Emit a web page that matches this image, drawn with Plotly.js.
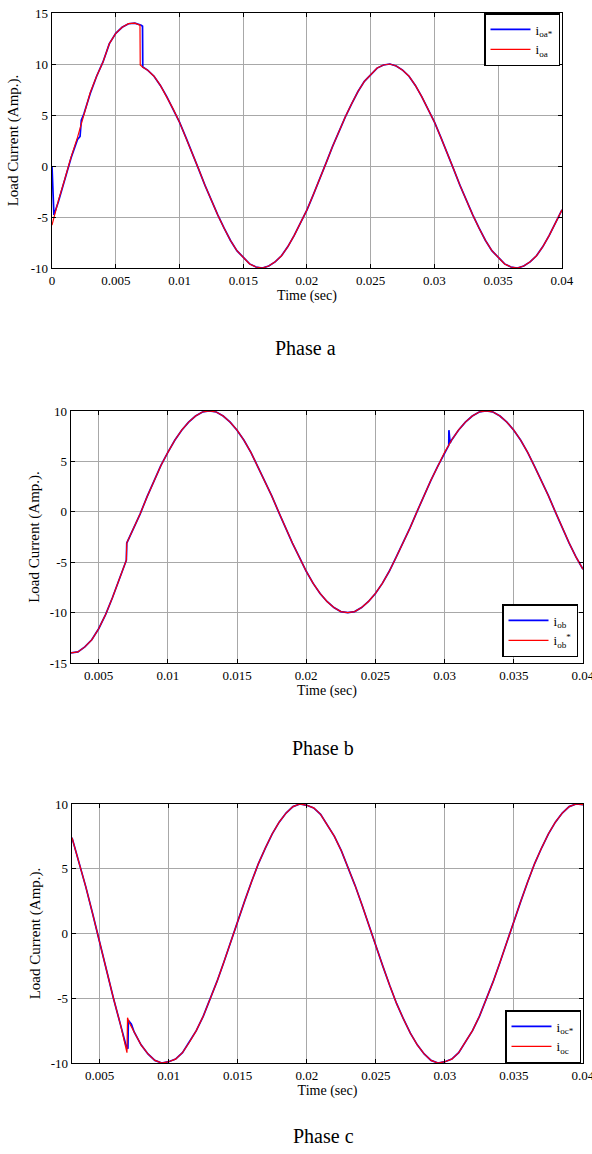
<!DOCTYPE html>
<html><head><meta charset="utf-8">
<script src="https://cdn.plot.ly/plotly-3.0.1.min.js"></script>
<style>html,body{margin:0;padding:0;background:#fff}#chart{width:592px;height:1154px}</style>
</head><body><div id="chart"></div>
<script>
// ---------- data ----------
const tSteady = [0.0075,0.008,0.0085,0.009,0.0095,0.01,0.0105,0.011,0.0115,0.012,0.0125,0.013,0.0135,0.014,0.0145,0.015,0.0155,0.016,0.0165,0.017,0.0175,0.018,0.0185,0.019,0.0195,0.02,0.0205,0.021,0.0215,0.022,0.0225,0.023,0.0235,0.024,0.0245,0.025,0.0255,0.026,0.0265,0.027,0.0275,0.028,0.0285,0.029,0.0295,0.03,0.0305,0.031,0.0315,0.032,0.0325,0.033,0.0335,0.034,0.0345,0.035,0.0355,0.036,0.0365,0.037,0.0375,0.038,0.0385,0.039,0.0395,0.04];

// Phase a
const tA_refStart = [0,0.00015,0.0005,0.001,0.0015,0.002,0.0022,0.0023,0.0025,0.003,0.0035,0.004,0.0045,0.005,0.0055,0.006,0.0065,0.007,0.0071,0.00712];
const ioaRef_start = [0,-4.8,-3.5,-1.4,0.8,2.6,2.9,4.5,5.1,7.1,8.8,10.2,12.0,13.0,13.6,13.95,14.0,13.8,13.7,9.7];
const tA_start = [0,0.0005,0.001,0.0015,0.002,0.0025,0.003,0.0035,0.004,0.0045,0.005,0.0055,0.006,0.0065,0.0069,0.00692,0.0071];
const ioa_start = [-5.8,-3.4,-1.3,0.9,2.8,5.1,7.2,8.8,10.2,12.0,13.0,13.6,13.95,14.0,13.8,9.9,9.7];
const ioa_steady = [9.4,8.8,7.9,6.8,5.6,4.3,2.8,1.3,-0.3,-1.9,-3.4,-4.8,-6.1,-7.3,-8.3,-9.0,-9.6,-9.9,-10.0,
  -9.8,-9.4,-8.8,-7.9,-6.8,-5.6,-4.3,-2.8,-1.3,0.3,1.9,3.4,4.8,6.1,7.3,8.3,9.0,9.6,9.9,10.0,
  9.8,9.4,8.8,7.9,6.8,5.6,4.3,2.8,1.3,-0.3,-1.9,-3.4,-4.8,-6.1,-7.3,-8.3,-9.0,-9.6,-9.9,-10.0,
  -9.8,-9.4,-8.8,-7.9,-6.8,-5.6,-4.3];

// Phase b
const tB_start = [0.003,0.0035,0.004,0.0045,0.005,0.0055,0.006,0.0065,0.007,0.00703,0.0071];
const iob_start = [-14.0,-13.9,-13.4,-12.7,-11.6,-10.2,-8.5,-6.6,-4.8,-3.1,-2.9];
const iob_steady = [-1.8,-0.2,1.5,3.1,4.6,5.9,7.1,8.1,8.9,9.5,9.9,10.0,
  9.9,9.5,8.9,8.1,7.1,5.9,4.5,3.1,1.6,0.0,-1.6,-3.1,-4.5,-5.9,-7.1,-8.1,-8.9,-9.5,-9.9,-10.0,
  -9.9,-9.5,-8.9,-8.1,-7.1,-5.9,-4.5,-3.1,-1.6,0.0,1.6,3.1,4.5,5.9,7.1,8.1,8.9,9.5,9.9,10.0,
  9.9,9.5,8.9,8.1,7.1,5.9,4.5,3.1,1.6,0.0,-1.6,-3.1,-4.5,-5.7];
const tB_spike = [0.0303,0.03031,0.0304];
const iob_spike = [6.6,8.1,6.8];

// Phase c
const tC_refStart = [0.003,0.0035,0.004,0.0045,0.005,0.0055,0.006,0.0065,0.0069,0.00705,0.00708,0.0073];
const iocRef_start = [7.4,5.6,3.6,1.5,-0.7,-2.9,-5.0,-7.0,-8.6,-8.9,-6.7,-7.0];
const tC_start = [0.003,0.0035,0.004,0.0045,0.005,0.0055,0.006,0.0065,0.0069,0.00698,0.00702,0.00715];
const ioc_start = [7.4,5.6,3.6,1.5,-0.7,-2.9,-5.0,-7.0,-8.8,-9.2,-6.5,-6.9];
const ioc_steady = [-7.6,-8.6,-9.3,-9.8,-10.0,
  -9.9,-9.7,-9.2,-8.4,-7.5,-6.4,-5.1,-3.7,-2.2,-0.6,0.9,2.5,4.0,5.4,6.6,7.7,8.6,9.3,9.8,10.0,
  9.9,9.7,9.2,8.4,7.5,6.4,5.1,3.7,2.2,0.6,-0.9,-2.5,-4.0,-5.4,-6.6,-7.7,-8.6,-9.3,-9.8,-10.0,
  -9.9,-9.7,-9.2,-8.4,-7.5,-6.4,-5.1,-3.7,-2.2,-0.6,0.9,2.5,4.0,5.4,6.6,7.7,8.6,9.3,9.8,10.0,
  9.95];

// ticks
const xTickValsA = [0,0.005,0.01,0.015,0.02,0.025,0.03,0.035,0.04];
const xTickTextA = ['0','0.005','0.01','0.015','0.02','0.025','0.03','0.035','0.04'];
const xTickValsBC = [0.005,0.01,0.015,0.02,0.025,0.03,0.035,0.04];
const xTickTextBC = ['0.005','0.01','0.015','0.02','0.025','0.03','0.035','0.04'];
const yTickValsA = [-10,-5,0,5,10,15];
const yTickTextA = ['-10','-5','0','5','10','15'];
const yTickValsB = [-15,-10,-5,0,5,10];
const yTickTextB = ['-15','-10','-5','0','5','10'];
const yTickValsC = [-10,-5,0,5,10];
const yTickTextC = ['-10','-5','0','5','10'];

const xTitle = 'Time (sec)';
const yTitle = 'Load Current (Amp.).';
const phaseLabels = ['Phase a','Phase b','Phase c'];

// ---------- build ----------
const FONT = 'Liberation Serif, Times New Roman, serif';
const BLUE = '#0000ff', RED = '#ff0000';
const W = 592, H = 1154;

const traces = [
  {x: tA_refStart.concat(tSteady), y: ioaRef_start.concat(ioa_steady), xaxis:'x', yaxis:'y',
   name:'i<sub>oa*</sub>', legend:'legend', line:{color:BLUE,width:1.7}, mode:'lines'},
  {x: tA_start.concat(tSteady), y: ioa_start.concat(ioa_steady), xaxis:'x', yaxis:'y',
   name:'i<sub>oa</sub>', legend:'legend', line:{color:RED,width:1.2}, mode:'lines'},
  {x: tB_start.concat(tSteady.slice(0,46), tB_spike, tSteady.slice(46)),
   y: iob_start.concat(iob_steady.slice(0,46), iob_spike, iob_steady.slice(46)), xaxis:'x2', yaxis:'y2',
   name:'i<sub>ob</sub>', legend:'legend2', line:{color:BLUE,width:1.7}, mode:'lines'},
  {x: tB_start.concat(tSteady), y: iob_start.concat(iob_steady), xaxis:'x2', yaxis:'y2',
   name:'i<sub>ob</sub><sup>*</sup>', legend:'legend2', line:{color:RED,width:1.2}, mode:'lines'},
  {x: tC_refStart.concat(tSteady), y: iocRef_start.concat(ioc_steady), xaxis:'x3', yaxis:'y3',
   name:'i<sub>oc*</sub>', legend:'legend3', line:{color:BLUE,width:1.7}, mode:'lines'},
  {x: tC_start.concat(tSteady), y: ioc_start.concat(ioc_steady), xaxis:'x3', yaxis:'y3',
   name:'i<sub>oc</sub>', legend:'legend3', line:{color:RED,width:1.2}, mode:'lines'}
];

function ax(extra){
  return Object.assign({
    showline:true, linecolor:'#000', linewidth:1.3, mirror:'ticks',
    ticks:'inside', ticklen:4, tickcolor:'#000', tickwidth:1,
    showgrid:true, gridcolor:'#a8a8a8', gridwidth:1, zeroline:false, ticklabeloverflow:'allow',
    tickfont:{family:FONT,size:13,color:'#000'}, tickmode:'array', fixedrange:true
  }, extra);
}
const px = v => v / W;
const py = v => 1 - v / H;

function legendBox(extra){
  return Object.assign({
    bgcolor:'#fff', bordercolor:'#000', borderwidth:1.5,
    font:{family:FONT,size:13,color:'#000'}, tracegroupgap:0, itemwidth:40
  }, extra);
}

const layout = {
  width:W, height:H, margin:{l:0,r:0,t:0,b:0},
  paper_bgcolor:'#fff', plot_bgcolor:'#fff',
  font:{family:FONT,color:'#000'},
  showlegend:true,
  xaxis: ax({domain:[px(52),px(562)], anchor:'y', range:[0,0.040001], tickvals:xTickValsA, ticktext:xTickTextA,
    title:{text:xTitle, font:{family:FONT,size:14}, standoff:2}}),
  yaxis: ax({domain:[py(268),py(13)], anchor:'x', range:[-10,15], tickvals:yTickValsA, ticktext:yTickTextA,
    title:{text:yTitle, font:{family:FONT,size:15}, standoff:8}}),
  xaxis2: ax({domain:[px(71),px(583)], anchor:'y2', range:[0.003,0.040001], tickvals:xTickValsBC, ticktext:xTickTextBC,
    title:{text:xTitle, font:{family:FONT,size:14}, standoff:2}}),
  yaxis2: ax({domain:[py(663),py(411)], anchor:'x2', range:[-15,10], tickvals:yTickValsB, ticktext:yTickTextB,
    title:{text:yTitle, font:{family:FONT,size:15}, standoff:6}}),
  xaxis3: ax({domain:[px(72),px(583)], anchor:'y3', range:[0.003,0.040001], tickvals:xTickValsBC, ticktext:xTickTextBC,
    title:{text:xTitle, font:{family:FONT,size:14}, standoff:2}}),
  yaxis3: ax({domain:[py(1063),py(804)], anchor:'x3', range:[-10,10], tickvals:yTickValsC, ticktext:yTickTextC,
    title:{text:yTitle, font:{family:FONT,size:15}, standoff:6}}),
  legend: legendBox({x:px(560), y:py(13), xanchor:'right', yanchor:'top'}),
  legend2: legendBox({x:px(578), y:py(657), xanchor:'right', yanchor:'bottom'}),
  legend3: legendBox({x:px(581), y:py(1063), xanchor:'right', yanchor:'bottom'}),
  annotations: [
    {text:phaseLabels[0], x:px(305), y:py(348)},
    {text:phaseLabels[1], x:px(323), y:py(748)},
    {text:phaseLabels[2], x:px(323), y:py(1136)}
  ].map(a => Object.assign({xref:'paper', yref:'paper', showarrow:false, xanchor:'center', yanchor:'middle',
      font:{family:FONT,size:20,color:'#000'}}, a))
};

Plotly.newPlot('chart', traces, layout, {displayModeBar:false, staticPlot:true});
</script></body></html>
